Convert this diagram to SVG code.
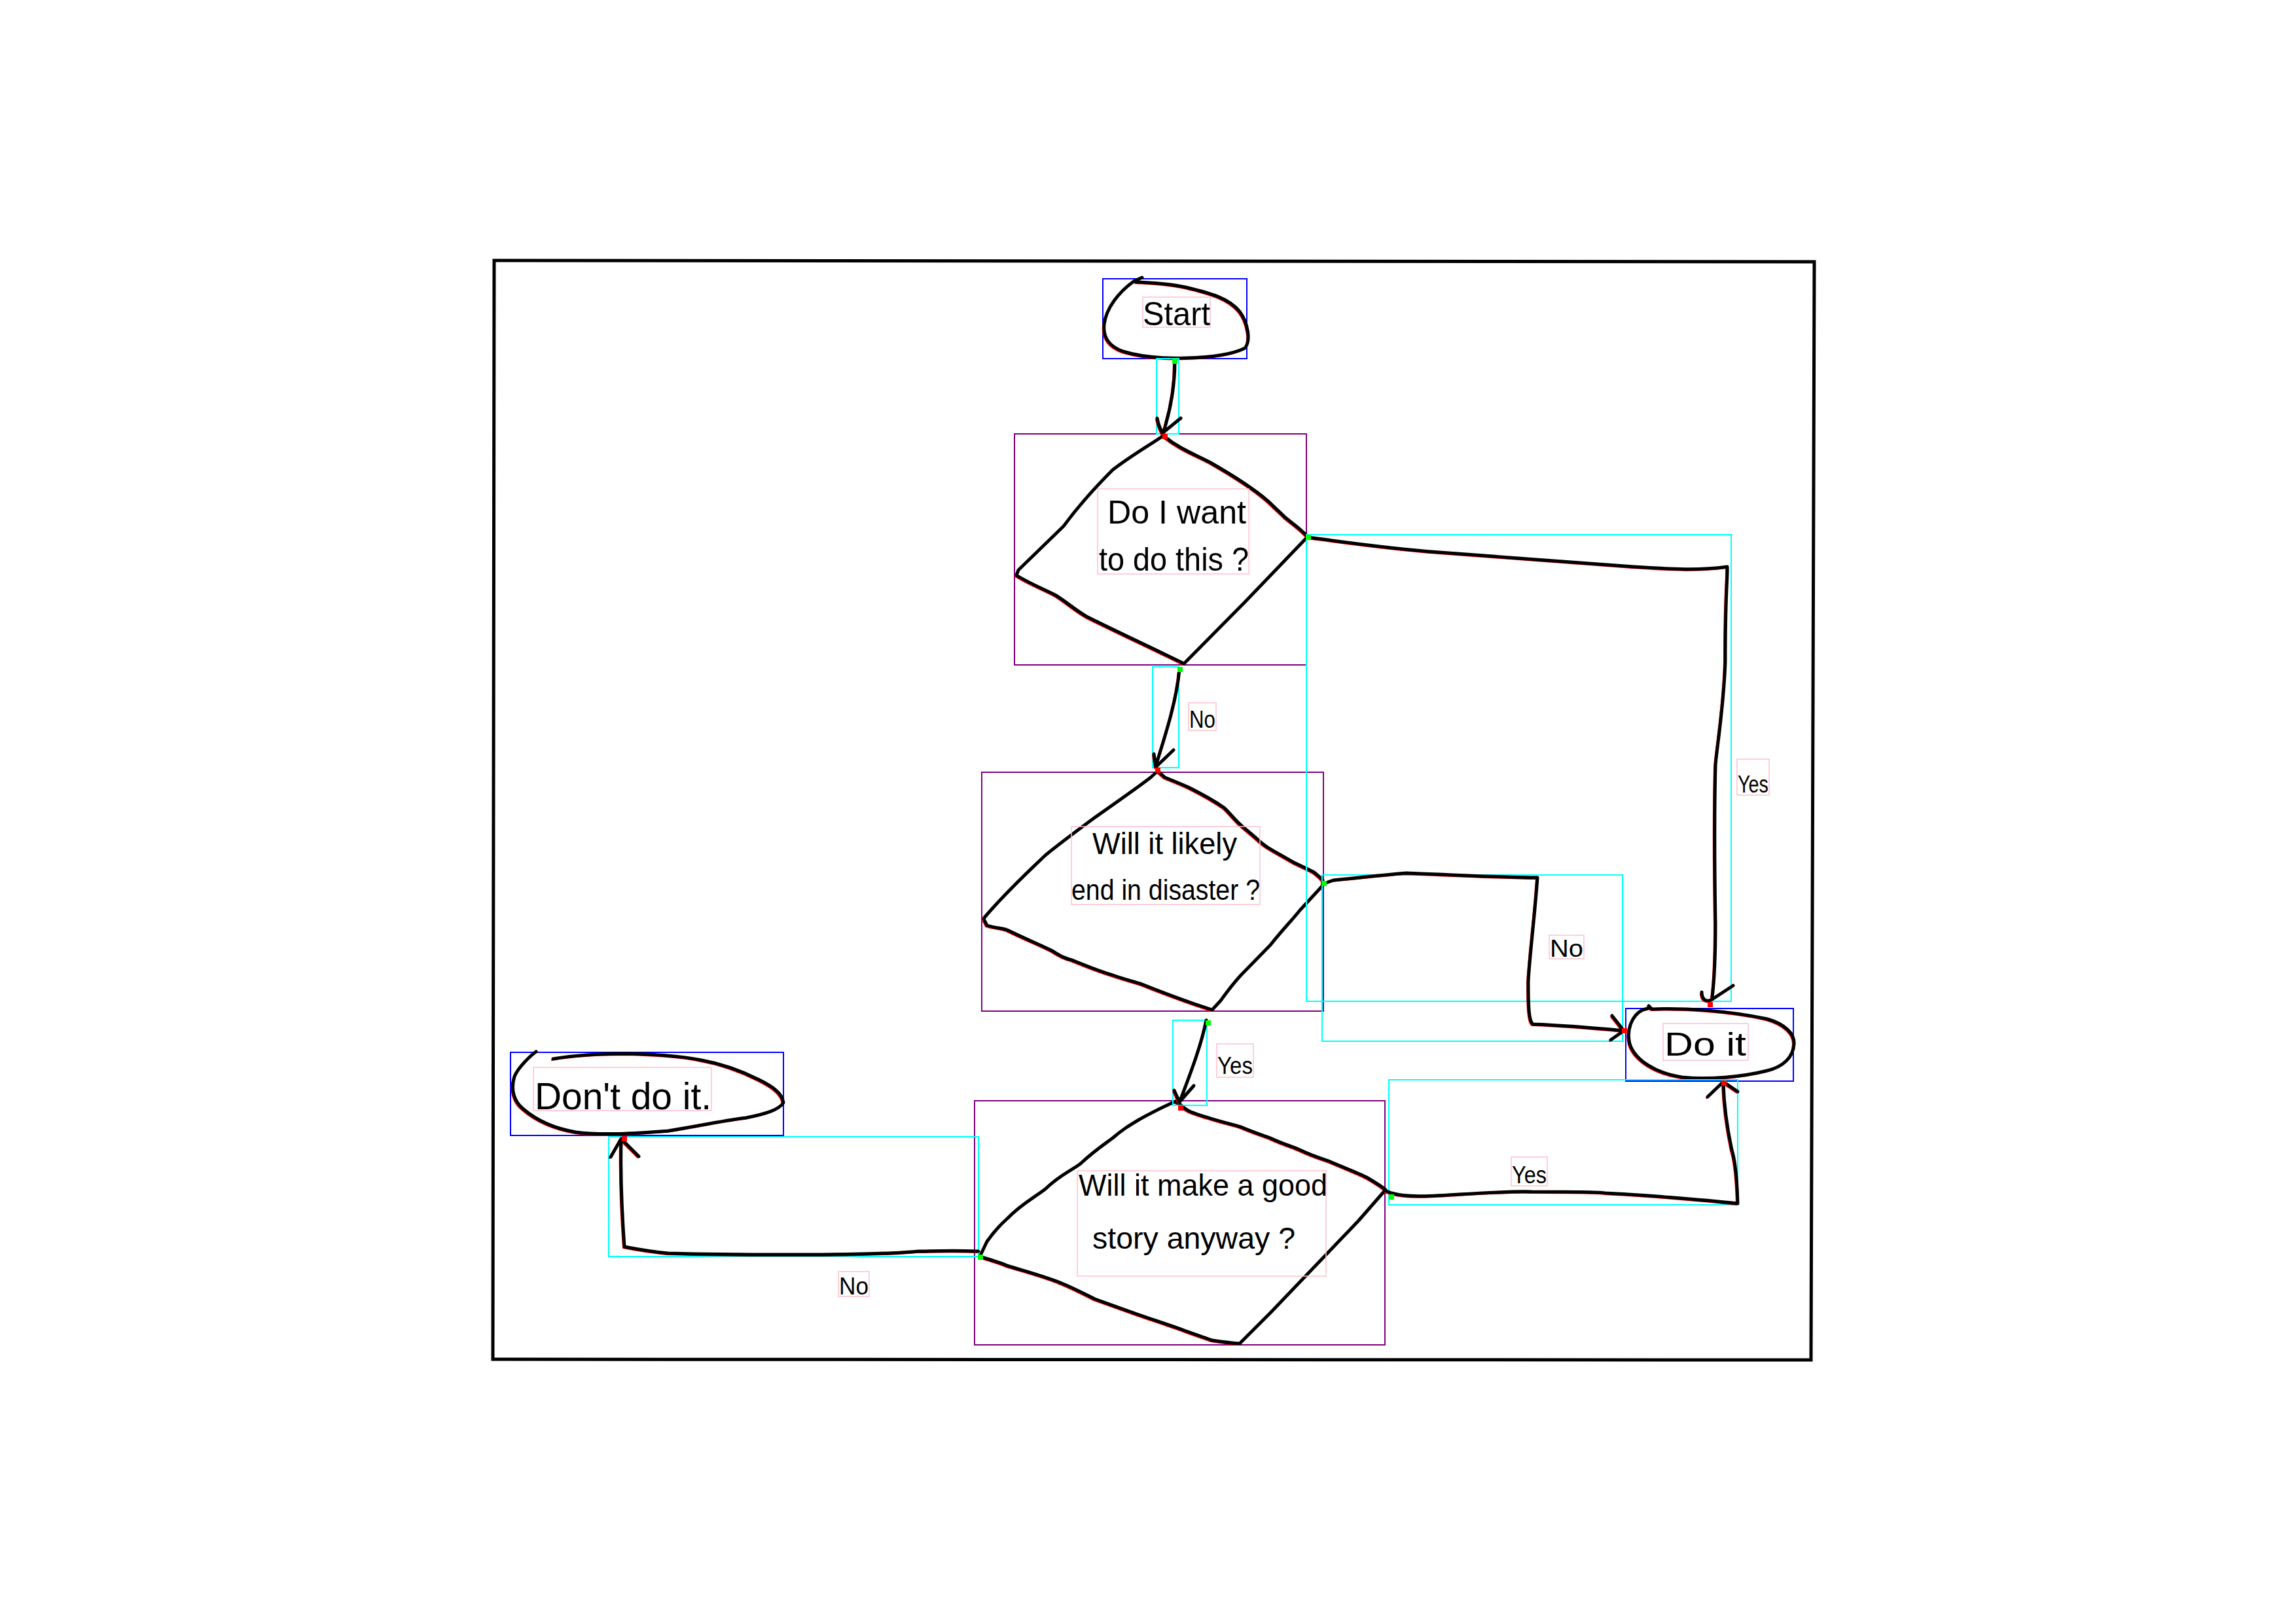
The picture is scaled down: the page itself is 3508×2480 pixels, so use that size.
<svg xmlns="http://www.w3.org/2000/svg" xmlns:xlink="http://www.w3.org/1999/xlink" width="3508" height="2480" viewBox="0 0 3508 2480">
  <defs>
    <style>
      .ink{fill:none;stroke:#000;stroke-width:5;stroke-linecap:round;stroke-linejoin:round}
      .trace{fill:none;stroke:#f00;stroke-width:2;stroke-linecap:round;stroke-linejoin:round}
      .frame{fill:none;stroke:#000;stroke-width:5;stroke-linejoin:miter}
      .nbox{fill:none;stroke:#00f;stroke-width:2}
      .dbox{fill:none;stroke:#800080;stroke-width:2}
      .cbox{fill:none;stroke:#0ff;stroke-width:2}
      .tbox{fill:none;stroke:#ffc0cb;stroke-width:1.5}
      .src{fill:#0f0}
      .dst{fill:#f00}
      text{font-family:"Liberation Sans",Arial,sans-serif;fill:#000}
      .big{font-size:48px}
      .lbl{font-size:36px}
    </style>
    <!-- hand-drawn stroke geometry; each is drawn twice: a thin red trace and the black ink -->
    <path id="g-start" d="M1745,424 L1732,430 C1710,446 1690,470 1687,496 C1685,516 1696,530 1716,537 C1745,546 1780,548 1812,547 C1850,546 1882,542 1902,532 C1912,520 1906,492 1894,476 C1878,456 1850,448 1812,439 C1788,434 1762,432 1736,431"/>
    <path id="g-d1" d="M1777,666 C1760,678 1730,695 1700,718 C1680,738 1650,770 1625,804 L1556,871 L1553,879 C1570,890 1590,898 1612,909 C1630,920 1640,930 1660,942 C1700,962 1760,990 1809,1014 L1902,920 L1998,820 C1985,806 1970,796 1964,791 C1955,782 1948,776 1940,768 C1920,750 1890,730 1848,706 C1820,692 1800,684 1779,667"/>
    <path id="g-d2" d="M1769,1178 L1758,1188 C1740,1202 1720,1216 1673,1249 C1650,1266 1620,1288 1597,1307 C1570,1333 1540,1360 1504,1402 L1503,1404 L1508,1414 C1520,1418 1530,1418 1539,1421 C1570,1436 1590,1444 1606,1452 C1620,1460 1625,1464 1638,1467 C1660,1476 1680,1484 1700,1490 C1720,1497 1740,1502 1745,1504 C1770,1514 1790,1522 1825,1534 L1852,1543 L1865,1529 C1875,1515 1885,1502 1896,1490 L1941,1444 C1960,1420 1975,1405 1986,1391 L2021,1353 L2021,1345 C2015,1338 2010,1335 2008,1333 C1995,1326 1985,1322 1977,1318 C1960,1308 1945,1300 1937,1295 C1930,1290 1926,1287 1923,1284 C1910,1272 1900,1265 1892,1257 C1880,1245 1875,1238 1870,1234 C1850,1220 1830,1210 1816,1203 C1800,1196 1785,1190 1780,1188 L1771,1180"/>
    <path id="g-d3" d="M1796,1683 L1805,1689 C1812,1696 1818,1699 1825,1701 C1850,1710 1875,1716 1896,1722 C1915,1730 1930,1735 1941,1739 C1960,1748 1975,1752 1986,1757 C2005,1766 2018,1770 2030,1774 C2055,1785 2075,1792 2088,1799 C2100,1806 2110,1812 2117,1818 L2075,1866 L2008,1936 L1941,2006 L1894,2053 C1880,2052 1865,2050 1852,2048 C1835,2042 1820,2037 1807,2032 C1785,2024 1760,2016 1740,2009 C1715,2000 1695,1993 1673,1985 C1655,1976 1640,1968 1620,1960 C1595,1950 1565,1942 1539,1934 C1525,1928 1510,1924 1497,1920 L1508,1897 C1520,1880 1530,1870 1539,1862 C1560,1840 1580,1830 1597,1817 C1620,1795 1635,1790 1651,1778 C1670,1760 1685,1750 1700,1739 C1715,1726 1725,1720 1740,1711 C1760,1700 1780,1690 1796,1683"/>
    <path id="g-doit" d="M2519,1537 L2524,1542 C2570,1540 2640,1544 2700,1557 C2728,1565 2742,1580 2741,1595 C2740,1615 2725,1630 2700,1636 C2660,1646 2610,1650 2570,1646 C2530,1640 2498,1620 2490,1595 C2485,1575 2492,1552 2510,1543 L2521,1540"/>
    <path id="g-dont" d="M819,1607 C812,1612 792,1630 786,1645 C780,1665 785,1683 800,1695 C820,1712 845,1724 880,1730 C920,1735 970,1732 1021,1728 C1060,1722 1100,1713 1140,1708 C1170,1702 1190,1696 1197,1685 C1195,1670 1180,1660 1160,1650 C1130,1635 1100,1625 1072,1620 C1040,1613 1000,1611 960,1610 C920,1610 880,1612 845,1618"/>
    <path id="w-c1" d="M1795,552 C1795,590 1788,628 1777,662 M1768,639 C1770,650 1773,656 1776,662 L1804,639"/>
    <path id="w-c2" d="M1802,1023 C1798,1070 1780,1125 1766,1170 M1763,1152 L1766,1172 L1793,1146"/>
    <path id="w-c3" d="M1999,821 C2060,829 2120,838 2200,844 C2300,851 2400,858 2496,866 C2560,870 2595,872 2639,866 C2640,880 2636,900 2636,1010 C2634,1080 2622,1150 2621,1170 C2619,1250 2620,1350 2621,1411 C2621,1470 2619,1500 2616,1524 M2600,1516 C2600,1528 2608,1532 2616,1527 L2648,1506"/>
    <path id="w-c4" d="M2023,1350 L2037,1345 C2090,1340 2120,1336 2150,1334 C2200,1336 2300,1341 2349,1341 C2345,1400 2337,1460 2335,1500 C2335,1540 2336,1560 2342,1565 C2370,1566 2430,1570 2481,1575 M2463,1552 L2481,1575 L2461,1589"/>
    <path id="w-c5" d="M1843,1559 C1835,1600 1815,1650 1803,1682 M1794,1666 L1802,1684 L1824,1659"/>
    <path id="w-c6" d="M2118,1820 L2126,1823 C2150,1830 2180,1828 2229,1825 C2280,1822 2320,1820 2340,1821 C2400,1821 2450,1822 2452,1823 C2500,1825 2600,1833 2655,1839 C2654,1800 2650,1770 2646,1757 C2638,1720 2634,1690 2633,1655 M2609,1676 L2633,1653 L2655,1668"/>
    <path id="w-c7" d="M1495,1912 C1450,1910 1420,1912 1403,1912 C1380,1914 1365,1915 1352,1915 C1300,1917 1250,1917 1199,1917 C1140,1917 1060,1916 1021,1915 C990,1912 970,1908 954,1905 C950,1850 948,1790 949,1742 M933,1768 L949,1740 L976,1767"/>
  </defs>

  <rect width="3508" height="2480" fill="#fff"/>

  <!-- page frame -->
  <polygon class="frame" points="755,398 2772,400 2767,2078 753,2077"/>

  <!-- nodes -->
  <g id="start">
    <rect class="nbox" x="1685" y="426" width="220" height="122"/>
    <use xlink:href="#g-start" class="trace" transform="translate(-2,2)"/>
    <use xlink:href="#g-start" class="ink"/>
    <rect class="tbox" x="1746" y="454" width="103" height="46"/>
    <text x="1746" y="497" font-size="50" textLength="103" lengthAdjust="spacingAndGlyphs">Start</text>
  </g>

  <g id="want-to">
    <rect class="dbox" x="1550" y="663" width="446" height="353"/>
    <use xlink:href="#g-d1" class="trace" transform="translate(-2,2)"/>
    <use xlink:href="#g-d1" class="ink"/>
    <rect class="tbox" x="1677" y="747" width="231" height="130"/>
    <text x="1692" y="800" font-size="50" textLength="212" lengthAdjust="spacingAndGlyphs">Do I want</text>
    <text x="1679" y="872" font-size="50" textLength="229" lengthAdjust="spacingAndGlyphs">to do this ?</text>
  </g>

  <g id="disaster">
    <rect class="dbox" x="1500" y="1180" width="522" height="365"/>
    <use xlink:href="#g-d2" class="trace" transform="translate(-2,2)"/>
    <use xlink:href="#g-d2" class="ink"/>
    <rect class="tbox" x="1637" y="1263" width="288" height="119"/>
    <text x="1669" y="1305" font-size="46" textLength="221" lengthAdjust="spacingAndGlyphs">Will it likely</text>
    <text x="1637" y="1375" font-size="44" textLength="288" lengthAdjust="spacingAndGlyphs">end in disaster ?</text>
  </g>

  <g id="good-story">
    <rect class="dbox" x="1489" y="1682" width="627" height="373"/>
    <use xlink:href="#g-d3" class="trace" transform="translate(-2,2)"/>
    <use xlink:href="#g-d3" class="ink"/>
    <rect class="tbox" x="1646" y="1789" width="380" height="161"/>
    <text x="1648" y="1827" font-size="46" textLength="380" lengthAdjust="spacingAndGlyphs">Will it make a good</text>
    <text x="1669" y="1908" font-size="46" textLength="310" lengthAdjust="spacingAndGlyphs">story anyway ?</text>
  </g>

  <g id="do-it">
    <rect class="nbox" x="2484" y="1541" width="256" height="111"/>
    <use xlink:href="#g-doit" class="trace" transform="translate(-2,2)"/>
    <use xlink:href="#g-doit" class="ink"/>
    <rect class="tbox" x="2541" y="1564" width="130" height="56"/>
    <text x="2543" y="1613" font-size="50" textLength="125" lengthAdjust="spacingAndGlyphs">Do it</text>
  </g>

  <g id="dont-do-it">
    <rect class="nbox" x="780" y="1608" width="417" height="127"/>
    <use xlink:href="#g-dont" class="trace" transform="translate(-2,2)"/>
    <use xlink:href="#g-dont" class="ink"/>
    <rect class="tbox" x="815" y="1631" width="272" height="66"/>
    <text x="817" y="1695" font-size="58" textLength="270" lengthAdjust="spacingAndGlyphs">Don't do it.</text>
  </g>

  <!-- connectors -->
  <g id="connectors">
    <g id="start-to-want">
      <rect class="cbox" x="1767" y="548" width="34" height="115"/>
      <use xlink:href="#w-c1" class="trace" transform="translate(-2,2)"/>
      <use xlink:href="#w-c1" class="ink"/>
      <rect class="src" x="1791" y="548" width="8" height="8"/>
      <rect class="dst" x="1776" y="663" width="8" height="8"/>
    </g>
    <g id="want-no">
      <rect class="cbox" x="1761" y="1019" width="40" height="154"/>
      <use xlink:href="#w-c2" class="trace" transform="translate(-2,2)"/>
      <use xlink:href="#w-c2" class="ink"/>
      <rect class="src" x="1799" y="1019" width="8" height="8"/>
      <rect class="dst" x="1765" y="1173" width="8" height="8"/>
      <rect class="tbox" x="1816" y="1074" width="42" height="42"/>
      <text class="lbl" x="1817" y="1112" textLength="40" lengthAdjust="spacingAndGlyphs">No</text>
    </g>
    <g id="want-yes">
      <rect class="cbox" x="1996" y="817" width="649" height="713"/>
      <use xlink:href="#w-c3" class="trace" transform="translate(-2,2)"/>
      <use xlink:href="#w-c3" class="ink"/>
      <rect class="src" x="1995" y="817" width="8" height="8"/>
      <rect class="dst" x="2609" y="1531" width="8" height="8"/>
      <rect class="tbox" x="2654" y="1160" width="49" height="55"/>
      <text class="lbl" x="2655" y="1211" textLength="47" lengthAdjust="spacingAndGlyphs">Yes</text>
    </g>
    <g id="disaster-no">
      <rect class="cbox" x="2020" y="1337" width="459" height="254"/>
      <use xlink:href="#w-c4" class="trace" transform="translate(-2,2)"/>
      <use xlink:href="#w-c4" class="ink"/>
      <rect class="src" x="2019" y="1346" width="8" height="8"/>
      <rect class="dst" x="2478" y="1571" width="8" height="8"/>
      <rect class="tbox" x="2367" y="1429" width="53" height="36"/>
      <text class="lbl" x="2368" y="1462" textLength="51" lengthAdjust="spacingAndGlyphs">No</text>
    </g>
    <g id="disaster-yes">
      <rect class="cbox" x="1792" y="1559" width="52" height="130"/>
      <use xlink:href="#w-c5" class="trace" transform="translate(-2,2)"/>
      <use xlink:href="#w-c5" class="ink"/>
      <rect class="src" x="1842" y="1559" width="8" height="8"/>
      <rect class="dst" x="1800" y="1689" width="8" height="8"/>
      <rect class="tbox" x="1859" y="1595" width="56" height="51"/>
      <text class="lbl" x="1860" y="1641" textLength="54" lengthAdjust="spacingAndGlyphs">Yes</text>
    </g>
    <g id="story-yes">
      <rect class="cbox" x="2122" y="1650" width="533" height="191"/>
      <use xlink:href="#w-c6" class="trace" transform="translate(-2,2)"/>
      <use xlink:href="#w-c6" class="ink"/>
      <rect class="src" x="2122" y="1825" width="8" height="8"/>
      <rect class="dst" x="2630" y="1651" width="8" height="8"/>
      <rect class="tbox" x="2309" y="1768" width="55" height="44"/>
      <text class="lbl" x="2310" y="1808" textLength="53" lengthAdjust="spacingAndGlyphs">Yes</text>
    </g>
    <g id="story-no">
      <rect class="cbox" x="930" y="1737" width="565" height="183"/>
      <use xlink:href="#w-c7" class="trace" transform="translate(-2,2)"/>
      <use xlink:href="#w-c7" class="ink"/>
      <rect class="src" x="1494" y="1917" width="8" height="8"/>
      <rect class="dst" x="950" y="1736" width="8" height="8"/>
      <rect class="tbox" x="1281" y="1943" width="47" height="38"/>
      <text class="lbl" x="1282" y="1978" textLength="45" lengthAdjust="spacingAndGlyphs">No</text>
    </g>
  </g>
</svg>
